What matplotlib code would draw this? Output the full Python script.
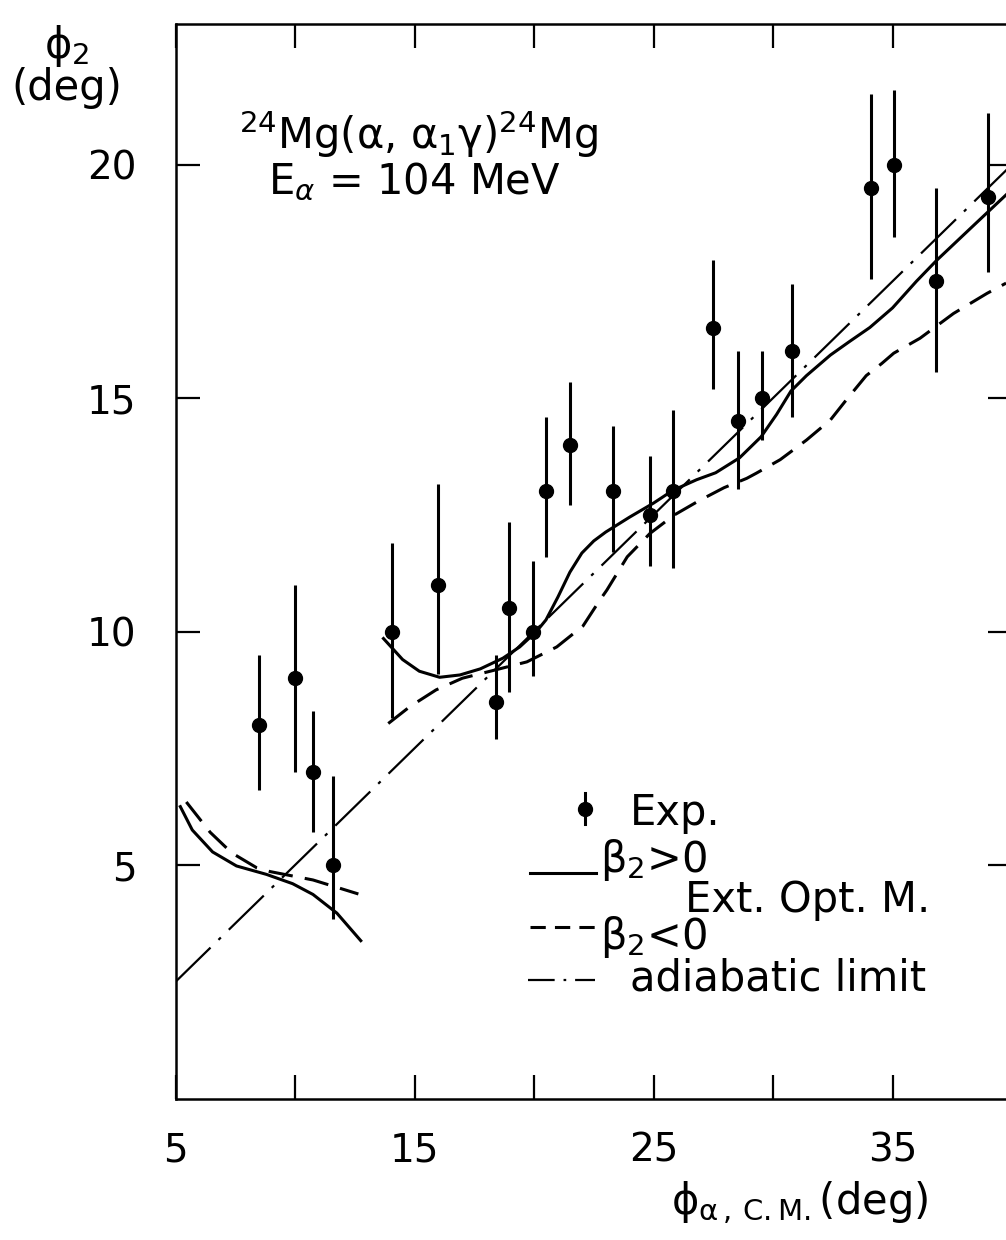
import numpy as np
import matplotlib.pyplot as plt
from matplotlib.lines import Line2D

plt.rcParams['font.family'] = ['DejaVu Sans']
plt.rcParams['mathtext.fontset'] = 'dejavusans'

# measured phi_2 vs alpha scattering angle (deg)
exp_angle = [8.5, 10.0, 10.75, 11.6, 14.05, 16.0, 18.4, 18.95, 19.95, 20.5, 21.5,
             23.3, 24.85, 25.8, 27.5, 28.55, 29.55, 30.8, 34.1, 35.05, 36.8, 39.0]
exp_phi2 = [8.0, 9.0, 7.0, 5.0, 10.0, 11.0, 8.5, 10.5, 10.0, 13.0, 14.0,
            13.0, 12.5, 13.0, 16.5, 14.5, 15.0, 16.0, 19.5, 20.0, 17.5, 19.3]
exp_hi = [9.5, 11.0, 8.3, 6.9, 11.9, 13.15, 9.5, 12.35, 11.5, 14.6, 15.35,
          14.4, 13.75, 14.75, 17.95, 16.0, 16.0, 17.45, 21.5, 21.6, 19.5, 21.1]
exp_lo = [6.6, 7.0, 5.7, 3.85, 8.15, 9.1, 7.7, 8.7, 9.05, 11.6, 12.7,
          11.7, 11.4, 11.35, 15.2, 13.05, 14.1, 14.6, 17.55, 18.45, 15.55, 17.7]

# extended optical model, beta2 > 0
pos_low_x = [5.2, 5.7, 6.55, 7.55, 8.8, 9.9, 10.75, 11.75, 12.75]
pos_low_y = [6.25, 5.75, 5.28, 4.98, 4.8, 4.6, 4.37, 3.97, 3.38]
pos_x = [13.7, 14.5, 15.2, 16.05, 16.9, 17.75, 18.7, 19.4, 20.1, 20.5, 21.0, 21.5,
         22.0, 22.5, 23.0, 24.0, 25.0, 25.8, 26.8, 27.6, 28.6, 29.5, 30.15, 30.75,
         31.4, 32.4, 33.2, 34.05, 35.0, 36.0, 36.85, 38.4, 39.75]
pos_y = [9.85, 9.4, 9.15, 9.02, 9.07, 9.2, 9.43, 9.67, 10.0, 10.25, 10.74, 11.27,
         11.68, 11.94, 12.13, 12.45, 12.75, 13.02, 13.25, 13.4, 13.72, 14.17, 14.65, 15.15,
         15.48, 15.92, 16.21, 16.51, 16.93, 17.5, 17.95, 18.7, 19.35]

# extended optical model, beta2 < 0
neg_low_x = [5.45, 6.45, 7.35, 8.4, 8.95, 10.75, 12.65]
neg_low_y = [6.35, 5.7, 5.26, 4.94, 4.86, 4.68, 4.38]
neg_x = [13.9, 14.8, 15.9, 17.0, 18.4, 19.7, 20.95, 22.05, 22.75, 23.05, 23.9, 24.85,
         25.85, 26.9, 27.95, 28.9, 29.3, 30.3, 31.4, 32.4, 33.05, 33.9, 34.55, 35.05,
         36.15, 37.55, 38.95, 39.75]
neg_y = [8.03, 8.39, 8.75, 9.0, 9.18, 9.35, 9.67, 10.12, 10.67, 10.89, 11.6, 12.1,
         12.49, 12.8, 13.08, 13.28, 13.39, 13.68, 14.1, 14.53, 14.95, 15.48, 15.74, 15.96,
         16.28, 16.81, 17.24, 17.46]

# adiabatic limit phi_2 = phi/2
adi_x = [5, 40]
adi_y = [2.5, 20]

fig = plt.figure(figsize=(10.06, 12.4), dpi=100)
ax = fig.add_axes([0.1745, 0.1141, 0.8315, 0.8662])

lw = 2.2
ax.plot(pos_low_x, pos_low_y, color='black', lw=lw)
ax.plot(pos_x, pos_y, color='black', lw=lw)
ax.plot(neg_low_x, neg_low_y, color='black', lw=lw, dashes=(8, 4))
ax.plot(neg_x, neg_y, color='black', lw=lw, dashes=(8, 4))
ax.plot(adi_x, adi_y, color='black', lw=1.6, dashes=(22, 5, 1.5, 5))

x = np.array(exp_angle)
y = np.array(exp_phi2)
yerr = [y - np.array(exp_lo), np.array(exp_hi) - y]
ax.errorbar(x, y, yerr=yerr, fmt='o', color='black', ms=10, elinewidth=2.2,
            capsize=0)

ax.set_xlim(5, 40)
ax.set_ylim(0, 23)
ax.set_xticks(range(5, 41, 5))
ax.set_xticklabels(['5', '', '15', '', '25', '', '35', ''])
ax.set_yticks([5, 10, 15, 20])
ax.tick_params(direction='in', length=17, width=1.6, top=True, right=True,
               labelsize=28)
ax.tick_params(axis='x', pad=24)
ax.tick_params(axis='y', pad=28)
for s in ax.spines.values():
    s.set_linewidth(1.8)

fs = 30
fig.text(0.066, 0.963, 'ϕ$_2$', fontsize=fs, ha='center', va='center')
fig.text(0.066, 0.929, '(deg)', fontsize=fs, ha='center', va='center')
fig.text(0.795, 0.030, r'ϕ$_{\mathrm{α\,,\,C.M.}}$(deg)', fontsize=fs,
         ha='center', va='center')

ax.text(0.29, 0.898, '$^{24}$Mg(α, α$_1$γ)$^{24}$Mg',
        transform=ax.transAxes, fontsize=fs, ha='center', va='center')
ax.text(0.285, 0.853, 'E$_α$ = 104 MeV', transform=ax.transAxes,
        fontsize=fs, ha='center', va='center')

# hand-made key
tr = ax.transAxes
ax.add_line(Line2D([0.4895, 0.4895], [0.256, 0.284], color='black', lw=2.2,
                   transform=tr))
ax.plot([0.4895], [0.270], 'o', color='black', ms=10, transform=tr)
ax.text(0.543, 0.266, 'Exp.', transform=tr, fontsize=fs, va='center')
ax.add_line(Line2D([0.424, 0.503], [0.210, 0.210], color='black', lw=lw,
                   transform=tr))
ax.text(0.5075, 0.222, 'β$_2$>0', transform=tr, fontsize=fs, va='center')
ax.add_line(Line2D([0.424, 0.503], [0.160, 0.160], color='black', lw=lw,
                   dashes=(5, 3), transform=tr))
ax.text(0.5075, 0.150, 'β$_2$<0', transform=tr, fontsize=fs, va='center')
ax.text(0.609, 0.185, 'Ext. Opt. M.', transform=tr, fontsize=fs, va='center')
ax.add_line(Line2D([0.421, 0.502], [0.110, 0.110], color='black', lw=1.6,
                   dashes=(12, 4, 1.2, 4), transform=tr))
ax.text(0.543, 0.112, 'adiabatic limit', transform=tr, fontsize=fs, va='center')

fig.savefig('out.png', dpi=100)
